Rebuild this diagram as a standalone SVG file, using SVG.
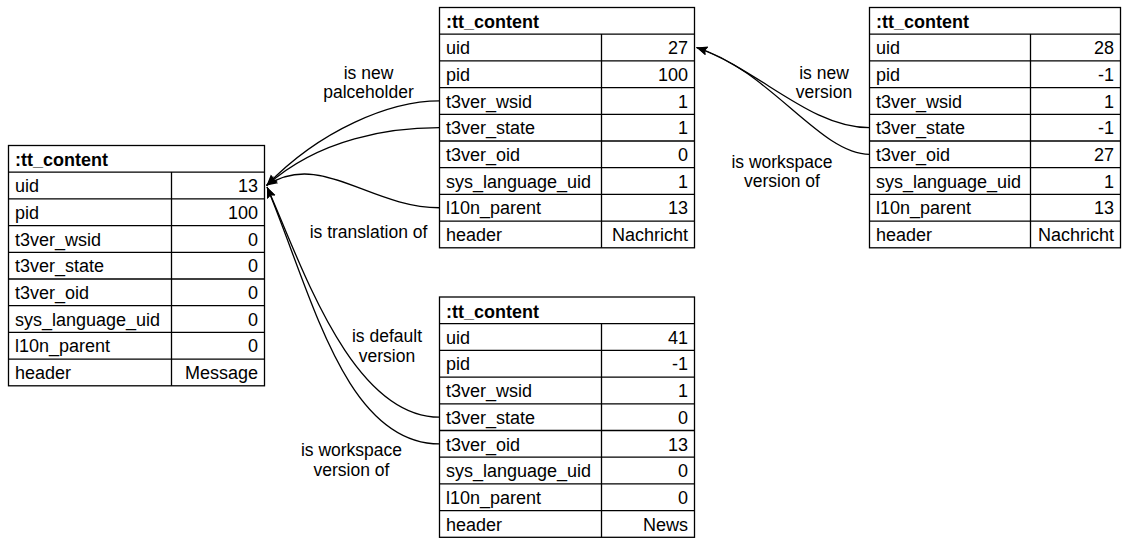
<svg xmlns="http://www.w3.org/2000/svg" width="1122" height="538" viewBox="0 0 1122 538">
  <style>
    .box { fill: #ffffff; stroke: #000000; stroke-width: 1.3; }
    .rule { stroke: #000000; stroke-width: 1.3; }
    text { font-family: "Liberation Sans", Arial, sans-serif; font-size: 18px; fill: #000000; }
    .hd { font-weight: bold; }
    .val { text-anchor: end; }
    .lbl { text-anchor: middle; font-size: 17.5px; }
    .edge { fill: none; stroke: #000000; stroke-width: 1.3; marker-end: url(#arrow); }
  </style>
  <defs>
    <marker id="arrow" markerUnits="userSpaceOnUse" markerWidth="12" markerHeight="10" refX="11" refY="4.5" orient="auto">
      <path d="M0,0 L11,4.5 L0,9 L2,4.5 z" fill="#000000"/>
    </marker>
  </defs>

  <!-- Connectors -->
  <g id="connectors">
    <!-- into live record uid (13) -->
    <path class="edge" d="M439.5,100.95 C390,100.95 320,130 266.5,185.5"/>
    <path class="edge" d="M439.5,127.65 C390,127.65 320,138 266.5,185.5"/>
    <path class="edge" d="M439.5,207.75 C370,207.75 320,150 266.5,185.5"/>
    <path class="edge" d="M439.5,417.15 C350,417.15 300,260 267,187"/>
    <path class="edge" d="M439.5,443.85 C345,443.85 312,295 267,187"/>
    <!-- into placeholder uid (27) -->
    <path class="edge" d="M869.5,127.65 C810,127.65 760,70 696.5,47.5"/>
    <path class="edge" d="M869.5,154.35 C820,154.35 770,70 696.5,47.5"/>
  </g>

  <!-- Connector labels (multi-line labels as tspans) -->
  <g id="labels">
    <text class="lbl" x="368.5" y="78.5"><tspan x="368.5">is new</tspan><tspan x="368.5" dy="19.7">palceholder</tspan></text>
    <text class="lbl" x="368.5" y="237.5">is translation of</text>
    <text class="lbl" x="824" y="78.5"><tspan x="824">is new</tspan><tspan x="824" dy="19.7">version</tspan></text>
    <text class="lbl" x="782" y="167.5"><tspan x="782">is workspace</tspan><tspan x="782" dy="19.7">version of</tspan></text>
    <text class="lbl" x="387" y="342"><tspan x="387">is default</tspan><tspan x="387" dy="19.7">version</tspan></text>
    <text class="lbl" x="351.5" y="456"><tspan x="351.5">is workspace</tspan><tspan x="351.5" dy="19.7">version of</tspan></text>
  </g>

  <!-- Live record (uid 13) -->
  <g id="record-13" transform="translate(8.5,145.5)">
    <rect class="box" x="0" y="0" width="256" height="240.3"/>
    <path class="rule" d="M0,26.7H256M0,53.4H256M0,80.1H256M0,106.8H256M0,133.5H256M0,160.2H256M0,186.9H256M0,213.6H256M163,26.7V240.3"/>
    <text class="hd" x="6.5" y="20.5">:tt_content</text>
    <text x="6.5" y="46.7">uid</text><text class="val" x="249.5" y="46.7">13</text>
    <text x="6.5" y="73.4">pid</text><text class="val" x="249.5" y="73.4">100</text>
    <text x="6.5" y="100.1">t3ver_wsid</text><text class="val" x="249.5" y="100.1">0</text>
    <text x="6.5" y="126.8">t3ver_state</text><text class="val" x="249.5" y="126.8">0</text>
    <text x="6.5" y="153.5">t3ver_oid</text><text class="val" x="249.5" y="153.5">0</text>
    <text x="6.5" y="180.2">sys_language_uid</text><text class="val" x="249.5" y="180.2">0</text>
    <text x="6.5" y="206.9">l10n_parent</text><text class="val" x="249.5" y="206.9">0</text>
    <text x="6.5" y="233.6">header</text><text class="val" x="249.5" y="233.6">Message</text>
  </g>

  <!-- Translation placeholder (uid 27) -->
  <g id="record-27" transform="translate(439.5,7.5)">
    <rect class="box" x="0" y="0" width="255" height="240.3"/>
    <path class="rule" d="M0,26.7H255M0,53.4H255M0,80.1H255M0,106.8H255M0,133.5H255M0,160.2H255M0,186.9H255M0,213.6H255M162,26.7V240.3"/>
    <text class="hd" x="6.5" y="20.5">:tt_content</text>
    <text x="6.5" y="46.7">uid</text><text class="val" x="248.5" y="46.7">27</text>
    <text x="6.5" y="73.4">pid</text><text class="val" x="248.5" y="73.4">100</text>
    <text x="6.5" y="100.1">t3ver_wsid</text><text class="val" x="248.5" y="100.1">1</text>
    <text x="6.5" y="126.8">t3ver_state</text><text class="val" x="248.5" y="126.8">1</text>
    <text x="6.5" y="153.5">t3ver_oid</text><text class="val" x="248.5" y="153.5">0</text>
    <text x="6.5" y="180.2">sys_language_uid</text><text class="val" x="248.5" y="180.2">1</text>
    <text x="6.5" y="206.9">l10n_parent</text><text class="val" x="248.5" y="206.9">13</text>
    <text x="6.5" y="233.6">header</text><text class="val" x="248.5" y="233.6">Nachricht</text>
  </g>

  <!-- Workspace version of the placeholder (uid 28) -->
  <g id="record-28" transform="translate(869.5,7.5)">
    <rect class="box" x="0" y="0" width="251" height="240.3"/>
    <path class="rule" d="M0,26.7H251M0,53.4H251M0,80.1H251M0,106.8H251M0,133.5H251M0,160.2H251M0,186.9H251M0,213.6H251M161,26.7V240.3"/>
    <text class="hd" x="6.5" y="20.5">:tt_content</text>
    <text x="6.5" y="46.7">uid</text><text class="val" x="244.5" y="46.7">28</text>
    <text x="6.5" y="73.4">pid</text><text class="val" x="244.5" y="73.4">-1</text>
    <text x="6.5" y="100.1">t3ver_wsid</text><text class="val" x="244.5" y="100.1">1</text>
    <text x="6.5" y="126.8">t3ver_state</text><text class="val" x="244.5" y="126.8">-1</text>
    <text x="6.5" y="153.5">t3ver_oid</text><text class="val" x="244.5" y="153.5">27</text>
    <text x="6.5" y="180.2">sys_language_uid</text><text class="val" x="244.5" y="180.2">1</text>
    <text x="6.5" y="206.9">l10n_parent</text><text class="val" x="244.5" y="206.9">13</text>
    <text x="6.5" y="233.6">header</text><text class="val" x="244.5" y="233.6">Nachricht</text>
  </g>

  <!-- Workspace version of the live record (uid 41) -->
  <g id="record-41" transform="translate(439.5,297)">
    <rect class="box" x="0" y="0" width="255" height="240.3"/>
    <path class="rule" d="M0,26.7H255M0,53.4H255M0,80.1H255M0,106.8H255M0,133.5H255M0,160.2H255M0,186.9H255M0,213.6H255M162,26.7V240.3"/>
    <text class="hd" x="6.5" y="20.5">:tt_content</text>
    <text x="6.5" y="46.7">uid</text><text class="val" x="248.5" y="46.7">41</text>
    <text x="6.5" y="73.4">pid</text><text class="val" x="248.5" y="73.4">-1</text>
    <text x="6.5" y="100.1">t3ver_wsid</text><text class="val" x="248.5" y="100.1">1</text>
    <text x="6.5" y="126.8">t3ver_state</text><text class="val" x="248.5" y="126.8">0</text>
    <text x="6.5" y="153.5">t3ver_oid</text><text class="val" x="248.5" y="153.5">13</text>
    <text x="6.5" y="180.2">sys_language_uid</text><text class="val" x="248.5" y="180.2">0</text>
    <text x="6.5" y="206.9">l10n_parent</text><text class="val" x="248.5" y="206.9">0</text>
    <text x="6.5" y="233.6">header</text><text class="val" x="248.5" y="233.6">News</text>
  </g>
</svg>
